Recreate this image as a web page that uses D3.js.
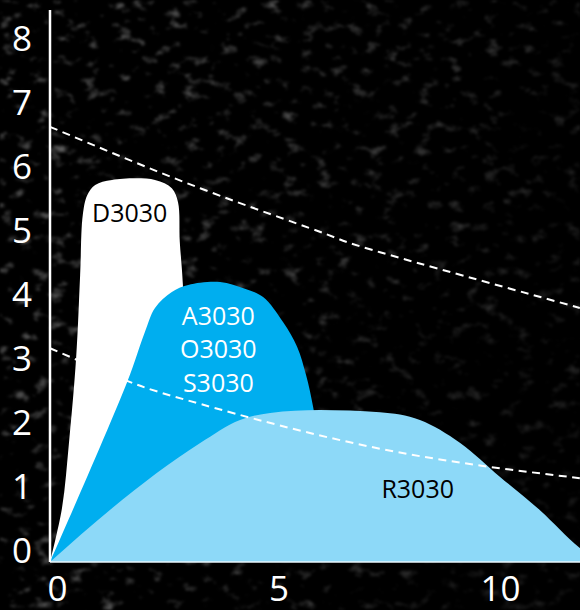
<!DOCTYPE html>
<html><head><meta charset="utf-8">
<script src="https://cdn.jsdelivr.net/npm/d3@7"></script>
<style>
html,body{margin:0;padding:0;background:#000;}
svg{display:block;}
</style></head>
<body>
<svg id="chart" width="580" height="610"></svg>
<script>
// ---- data (x in units, y in units) ----
const xTicks = [0, 5, 10];
const yTicks = [0, 1, 2, 3, 4, 5, 6, 7, 8];

const seriesNames = ["D3030", "A3030", "R3030"];

const dX = [0, 0.27, 0.43, 0.59, 0.68, 0.74, 0.84, 1.02, 1.40, 2.37, 2.75, 2.89, 2.93, 3.0, 3.08, 3.15];
const dY = [0, 0.84, 1.875, 3.19, 4.48, 5.42, 5.73, 5.89, 5.97, 5.97, 5.84, 5.62, 5.0, 4.33, 2.0, 0];

const aX = [0, 1.74, 2.14, 2.37, 2.75, 3.12, 3.84, 4.4, 4.81, 5.26, 5.58, 5.78, 5.94, 6.05, 6.14];
const aY = [0, 2.81, 3.59, 3.97, 4.22, 4.33, 4.375, 4.27, 4.14, 3.75, 3.36, 2.92, 2.42, 1.9, 0];

const rX = [0, 1.40, 3.39, 4.29, 4.97, 6.09, 7.45, 8.35, 9.26, 10.16, 11.06, 11.96, 12.4];
const rY = [0, 0.84, 1.86, 2.22, 2.33, 2.375, 2.34, 2.22, 1.86, 1.33, 0.81, 0.22, 0];

const dash1X = [0, 3.39, 6.09, 7.45, 11.96];
const dash1Y = [6.8, 5.84, 5.16, 4.84, 3.97];

const dash2X = [0, 1.74, 3.39, 7.45, 11.96];
const dash2Y = [3.34, 2.83, 2.47, 1.77, 1.31];

const labelTexts = ["D3030", "A3030", "O3030", "S3030", "R3030"];

// ---- layout ----
const svg = d3.select("#chart");
const W = 580, H = 610;
const x = d3.scaleLinear().domain([0, 12]).range([50, 50 + 12 * 44.3]);
const y = d3.scaleLinear().domain([0, 8]).range([562, 50]);

// background texture
const defs = svg.append("defs");
const f = defs.append("filter").attr("id", "noise").attr("x", 0).attr("y", 0)
  .attr("width", "100%").attr("height", "100%").attr("color-interpolation-filters", "sRGB");
f.append("feTurbulence").attr("type", "fractalNoise").attr("baseFrequency", "0.06 0.09").attr("numOctaves", 3).attr("seed", 7).attr("result", "t");
f.append("feColorMatrix").attr("in", "t").attr("type", "matrix")
  .attr("values", "1.5 0 0 0 -0.88  1.5 0 0 0 -0.88  1.5 0 0 0 -0.88  0 0 0 0 1").attr("result", "c");
f.append("feGaussianBlur").attr("in", "c").attr("stdDeviation", 0.8);
const grad = defs.append("linearGradient").attr("id", "fade").attr("x1", 0).attr("y1", 0).attr("x2", 1).attr("y2", 0.3);
grad.append("stop").attr("offset", "0%").attr("stop-color", "#fff").attr("stop-opacity", 0.9);
grad.append("stop").attr("offset", "60%").attr("stop-color", "#fff").attr("stop-opacity", 0.6);
grad.append("stop").attr("offset", "100%").attr("stop-color", "#fff").attr("stop-opacity", 0.3);
const mask = defs.append("mask").attr("id", "fadeMask");
mask.append("rect").attr("width", W).attr("height", H).attr("fill", "url(#fade)");

svg.append("rect").attr("width", W).attr("height", H).attr("fill", "#000");
svg.append("rect").attr("width", W).attr("height", H).attr("filter", "url(#noise)").attr("mask", "url(#fadeMask)");

const zip = (xs, ys) => xs.map((v, i) => [v, ys[i]]);
const areaC = d3.area().x(d => x(d[0])).y0(y(0)).y1(d => y(d[1])).curve(d3.curveCatmullRom.alpha(0.5));
const areaM = d3.area().x(d => x(d[0])).y0(y(0)).y1(d => y(d[1])).curve(d3.curveMonotoneX);
const line = d3.line().x(d => x(d[0])).y(d => y(d[1])).curve(d3.curveNatural);

// draw order: D (back), A, R (front)
const shapes = [
  { name: seriesNames[0], pts: zip(dX, dY), fill: "#ffffff", gen: areaC },
  { name: seriesNames[1], pts: zip(aX, aY), fill: "#00aeef", gen: areaC },
  { name: seriesNames[2], pts: zip(rX, rY), fill: "#8dd9f8", gen: areaM }
];
shapes.forEach(s => {
  svg.append("path").datum(s.pts).attr("d", s.gen).attr("fill", s.fill);
});

// axes lines
svg.append("line").attr("x1", x(0)).attr("x2", W).attr("y1", y(0)).attr("y2", y(0))
  .attr("stroke", "#e8f6fd").attr("stroke-width", 1.5);
svg.append("line").attr("x1", x(0)).attr("x2", x(0)).attr("y1", 10).attr("y2", y(0))
  .attr("stroke", "#fff").attr("stroke-width", 2.5);

// dashed lines
[zip(dash1X, dash1Y), zip(dash2X, dash2Y)].forEach(pts => {
  svg.append("path").datum(pts).attr("d", line).attr("fill", "none")
    .attr("stroke", "#fff").attr("stroke-width", 2).attr("stroke-dasharray", "8,5.5");
});

// tick labels via axes
const font = "'Open Sans', sans-serif";
const gx = svg.append("g").attr("transform", `translate(0,${y(0)})`)
  .call(d3.axisBottom(x).tickValues(xTicks).tickSize(0).tickFormat(d3.format("d")));
gx.select(".domain").remove();
gx.selectAll("text").attr("y", 39).attr("dy", 0).attr("dx", 7)
  .attr("fill", "#fff").attr("font-size", 35).attr("font-family", font);

const gy = svg.append("g").attr("transform", `translate(${x(0)},0)`)
  .call(d3.axisLeft(y).tickValues(yTicks).tickSize(0).tickFormat(d3.format("d")));
gy.select(".domain").remove();
gy.selectAll("text").attr("x", -28).attr("dy", 0).attr("text-anchor", "middle")
  .attr("fill", "#fff").attr("font-size", 35).attr("font-family", font);

// series labels
const labels = [
  { t: labelTexts[0], px: 1.8, py: 5.31, c: "#000" },
  { t: labelTexts[1], px: 3.8, py: 3.7, c: "#fff" },
  { t: labelTexts[2], px: 3.8, py: 3.18, c: "#fff" },
  { t: labelTexts[3], px: 3.8, py: 2.66, c: "#fff" },
  { t: labelTexts[4], px: 8.3, py: 1.0, c: "#000" }
];
svg.selectAll(".lbl").data(labels).enter().append("text")
  .attr("class", "lbl")
  .attr("x", d => x(d.px)).attr("y", d => y(d.py))
  .attr("text-anchor", "middle").attr("fill", d => d.c)
  .attr("font-size", 25).attr("font-family", font)
  .text(d => d.t);
</script>
</body></html>
